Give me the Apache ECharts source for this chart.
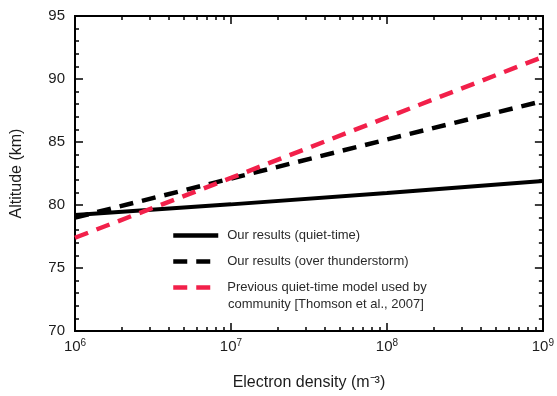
<!DOCTYPE html>
<html><head><meta charset="utf-8">
<script src="https://cdn.jsdelivr.net/npm/echarts@6/dist/echarts.min.js"></script>
<style>html,body{margin:0;padding:0;background:#fff}#c{width:557px;height:396px}</style>
</head><body><div id="c"></div>
<script>
const density = [1e6, 1e7, 1e8, 1e9];
const quietTime = [79.2, 80.05, 80.95, 81.9];
const thunderstorm = [79.0, 82.1, 85.2, 88.25];
const thomson = [77.4, 82.15, 86.95, 91.75];
const xTickExponents = {1e6: '6', 1e7: '7', 1e8: '8', 1e9: '9'};
const seriesNames = ['Our results (quiet-time)', 'Our results (over thunderstorm)', 'Previous quiet-time model used by'];
const legendExtraLine = 'community [Thomson et al., 2007]';
const yTicks = [70, 75, 80, 85, 90, 95];

const minorX = [];
for (let d = 1e6; d < 1e9; d *= 10) for (let k = 2; k <= 9; k++) minorX.push(k * d);

const FONT = 'Liberation Sans';
const TXT = '#1c1c1c';
const pair = (xs, ys) => xs.map((x, i) => [x, ys[i]]);

const baseX = {type: 'log', min: 1e6, max: 1e9, logBase: 10, splitLine: {show: false},
  axisLine: {show: true, lineStyle: {color: '#000', width: 2}}};
const baseY = {type: 'value', min: 70, max: 95, interval: 5, splitLine: {show: false},
  axisLine: {show: true, lineStyle: {color: '#000', width: 2}}};

const chart = echarts.init(document.getElementById('c'), null, {renderer: 'canvas'});
chart.setOption({
  animation: false,
  backgroundColor: '#fff',
  grid: {left: 75, right: 13, top: 16, bottom: 65},
  xAxis: [
    Object.assign({}, baseX, {position: 'bottom',
      name: 'Electron density (m\u207B\u00B3)', nameLocation: 'middle', nameGap: 44,
      nameTextStyle: {fontFamily: FONT, fontSize: 16, color: TXT},
      axisTick: {inside: true, length: 8, lineStyle: {color: '#000', width: 1.5}, customValues: density},
      axisLabel: {fontFamily: FONT, fontSize: 15, color: TXT, margin: 7, customValues: density,
        formatter: v => '{b|10}{s|' + (xTickExponents[Math.round(v)] || '') + '}',
        rich: {b: {fontFamily: FONT, fontSize: 15, color: TXT},
               s: {fontFamily: FONT, fontSize: 10, color: TXT, verticalAlign: 'top', padding: [0, 0, 8, 0]}}}}),
    Object.assign({}, baseX, {position: 'bottom', axisLabel: {show: false},
      axisTick: {inside: true, length: 4, lineStyle: {color: '#000', width: 1.5}, customValues: minorX}}),
    Object.assign({}, baseX, {position: 'top', axisLabel: {show: false},
      axisTick: {inside: true, length: 8, lineStyle: {color: '#000', width: 1.5}, customValues: density}}),
    Object.assign({}, baseX, {position: 'top', axisLabel: {show: false},
      axisTick: {inside: true, length: 4, lineStyle: {color: '#000', width: 1.5}, customValues: minorX}})
  ],
  yAxis: [
    Object.assign({}, baseY, {position: 'left',
      name: 'Altitude (km)', nameLocation: 'middle', nameGap: 50, nameRotate: 90,
      nameTextStyle: {fontFamily: FONT, fontSize: 16, color: TXT},
      axisTick: {inside: true, length: 8, lineStyle: {color: '#000', width: 1.5}},
      minorTick: {show: true, splitNumber: 5, length: 4, lineStyle: {color: '#000', width: 1.5}},
      axisLabel: {fontFamily: FONT, fontSize: 15, color: TXT, margin: 10, customValues: yTicks}}),
    Object.assign({}, baseY, {position: 'right', axisLabel: {show: false},
      axisTick: {inside: true, length: 8, lineStyle: {color: '#000', width: 1.5}},
      minorTick: {show: true, splitNumber: 5, length: 4, lineStyle: {color: '#000', width: 1.5}}})
  ],
  legend: {
    orient: 'vertical', left: 166, top: 224, itemWidth: 45, itemHeight: 14, itemGap: 13,
    data: seriesNames,
    itemStyle: {opacity: 0},
    lineStyle: {width: 4.5},
    textStyle: {fontFamily: FONT, fontSize: 13, color: '#2a2a2a', padding: [0, 0, 0, 4]}
  },
  graphic: [{type: 'text', left: 228, top: 298,
    style: {text: legendExtraLine, fontFamily: FONT, fontSize: 13, fill: '#2a2a2a'}}],
  series: [
    {name: seriesNames[0], type: 'line', symbol: 'none', data: pair(density, quietTime),
      lineStyle: {color: '#000', width: 4}, itemStyle: {color: '#000'}},
    {name: seriesNames[1], type: 'line', symbol: 'none', data: pair(density, thunderstorm),
      lineStyle: {color: '#000', width: 4.5, type: [14, 9]}, itemStyle: {color: '#000'}},
    {name: seriesNames[2], type: 'line', symbol: 'none', data: pair(density, thomson),
      lineStyle: {color: '#f2204a', width: 4.5, type: [14, 9]}, itemStyle: {color: '#f2204a'}}
  ]
});
</script></body></html>
